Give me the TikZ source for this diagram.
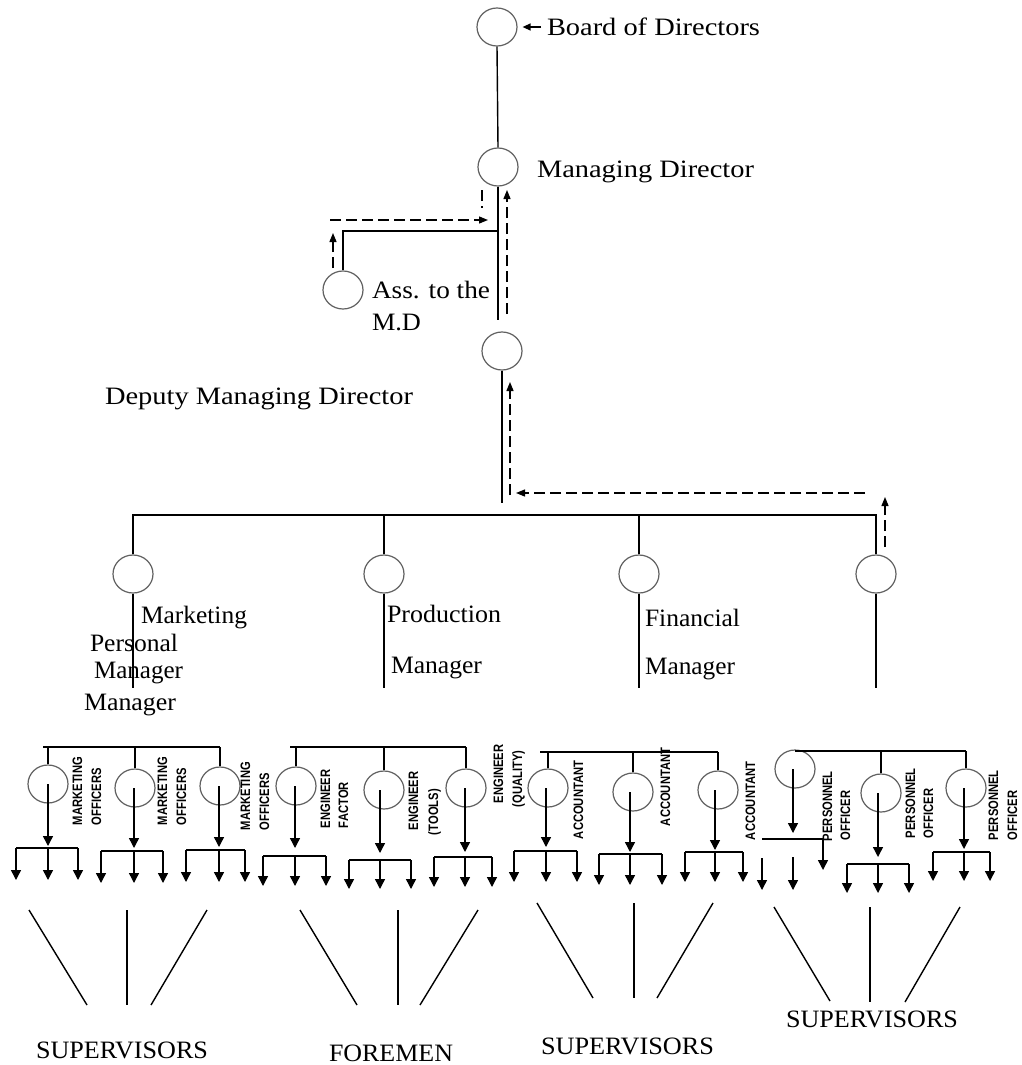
\documentclass[tikz,border=0pt]{standalone}
\usepackage{fontspec}
\setmainfont{Liberation Serif}
\newfontfamily\capsans{Liberation Sans}
\usetikzlibrary{shapes.geometric,arrows.meta}
% serif label stretched to a given width (in pt), natural height kept
\newcommand{\fitw}[2]{\resizebox{#1pt}{\height}{#2}}
% small capitals label, glyphs made a little taller
\newcommand{\tallcaps}[1]{\scalebox{1}[1.22]{#1}}
\begin{document}
\begin{tikzpicture}[x=1pt,y=-1pt,
  post/.style={ellipse, draw=black!62, line width=1.2pt, minimum width=40pt, minimum height=38pt, inner sep=0pt},
  link/.style={line width=1.4pt},
  tip/.style={line width=1.4pt, -{Triangle[width=10pt,length=10pt]}},
  dashtip/.style={line width=1.3pt, dash pattern=on 11pt off 5pt, -{Triangle[width=7pt,length=9pt]}},
  dashlink/.style={line width=1.3pt, dash pattern=on 11pt off 5pt},
  lab/.style={anchor=base west, inner sep=0pt, outer sep=0pt, font=\fontsize{25}{29}\selectfont},
  vlab/.style={rotate=90, anchor=base west, inner sep=0pt, outer sep=0pt, font=\capsans\bfseries\fontsize{11.2}{12}\selectfont},
]
\fill[white] (0,0) rectangle (1022,1065);
\useasboundingbox (0,0) rectangle (1022,1065);

% ---------- top of the hierarchy ----------
\node[post] (bod) at (497,27) {};
\node[post] (md) at (498,167) {};
\node[post] (ass) at (343,290) {};
\node[post] (dmd) at (502,351) {};

\node[lab] (bodl) at (547,35) {\fitw{213}{Board of Directors}};
\node[lab] (mdl) at (537,177) {\fitw{217}{Managing Director}};
\node[lab] (assl) at (372,298) {\fitw{118}{Ass. to the}};
\node[lab] (assm) at (372,330) {\fitw{49}{M.D}};
\node[lab] (dmdl) at (105,404) {\fitw{308}{Deputy Managing Director}};

\draw[line width=1.3pt, -{Triangle[width=7pt,length=8pt]}] (541,27) -- ([xshift=5pt]bod.east);
\draw[link] (bod.south) -- (md.north);
\coordinate (mdend) at (498,320);
\coordinate (assj) at (498,231);
\draw[link] (md.south) -- (mdend);
\draw[link] (assj) -| (ass.north);
\draw[link] (dmd.south) -- (502,503);

% staff / reporting lines (dashed)
\draw[dashtip] (333,268) -- (333,233);
\draw[dashtip] (330,220) -- (488,220);
\draw[dashlink] (482,190) -- (482,208);
\draw[dashtip] (507,314) -- (507,190);
\draw[dashtip] (510,495) -- (510,382);
\draw[dashtip] (865,493) -- (516,493);
\draw[dashtip] (885,547) -- (885,497);

% ---------- managers ----------
\node[post] (m1) at (133,574) {};
\node[post] (m2) at (384,574) {};
\node[post] (m3) at (639,574) {};
\node[post] (m4) at (876,574) {};
\coordinate (mbar) at (0,515);
\coordinate (mtail) at (0,688);
\draw[link] (m1.north) -- (m1.north |- mbar) -- (m4.north |- mbar) -- (m4.north);
\foreach \m in {m2,m3} \draw[link] (\m.north) -- (\m.north |- mbar);
\foreach \m in {m1,m2,m3,m4} \draw[link] (\m.south) -- (\m.south |- mtail);

\node[lab] (mkt) at (141,623) {\fitw{106}{Marketing}};
\node[lab] (pers) at (90,651) {\fitw{88}{Personal}};
\node[lab] (mgra) at (94,678) {\fitw{89}{Manager}};
\node[lab] (mgrb) at (84,710) {\fitw{92}{Manager}};
\node[lab] (prod) at (387,622) {\fitw{114}{Production}};
\node[lab] (mgrc) at (391,673) {\fitw{91}{Manager}};
\node[lab] (fin) at (645,626) {\fitw{95}{Financial}};
\node[lab] (mgrd) at (645,674) {\fitw{90}{Manager}};

% ---------- officers and their sections ----------
% name / circle x / circle y / arrow x / arrow tip y / bar y / bar left / bar right / tips y
\foreach \n/\cx/\cy/\ax/\at/\by/\bl/\br/\ty in {
  a1/48/784/48/846/848/16/78/880,
  a2/135/788/134/848/851/101/163/883,
  a3/220/786/219/847/850/186/245/882,
  b1/296/786/295/848/856/263/326/886,
  b2/384/790/380/853/860/349/411/889,
  b3/466/788/465/852/857/434/492/887,
  c1/548/788/546/847/851/514/577/882,
  c2/633/792/630/852/854/599/662/885,
  c3/718/790/715/850/852/685/743/882,
  d2/881/793/878/857/864/847/909/893,
  d3/966/788/964/849/852/933/990/881}{
  \node[post] (\n) at (\cx,\cy) {};
  \coordinate (\n-src) at (\ax,\cy);
  \draw[tip] (\n-src) -- (\ax,\at);
  \draw[link] (\bl,\by) -- (\br,\by);
  \draw[tip] (\bl,\by) -- (\bl,\ty);
  \draw[tip] (\ax,\by) -- (\ax,\ty);
  \draw[tip] (\br,\by) -- (\br,\ty);
}
\node[post] (d1) at (795,769) {};
\coordinate (d1-src) at (793,769);
\draw[tip] (d1-src) -- (793,833);
\draw[link] (762,839) -- (823,839);
\draw[tip] (823,839) -- (823,870);
\draw[tip] (762,858) -- (762,890);
\draw[tip] (793,857) -- (793,890);

% group bars
\coordinate (abar) at (0,747);
\coordinate (bbar) at (0,747);
\coordinate (cbar) at (0,752);
\coordinate (dbar) at (0,751);
\draw[link] (43,747) -- (a3.north |- abar);
\foreach \n in {a1,a2,a3} \draw[link] (\n.north) -- (\n.north |- abar);
\draw[link] (290,747) -- (b3.north |- bbar);
\foreach \n in {b1,b2,b3} \draw[link] (\n.north) -- (\n.north |- bbar);
\draw[link] (540,752) -- (c3.north |- cbar);
\foreach \n in {c1,c2,c3} \draw[link] (\n.north) -- (\n.north |- cbar);
\draw[link] (d1.north |- dbar) -- (d3.north |- dbar);
\foreach \n in {d2,d3} \draw[link] (\n.north) -- (\n.north |- dbar);

% rotated officer labels
\node[vlab] (ta1) at (82,825) {\tallcaps{MARKETING}};
\node[vlab] (ta1b) at (101,825) {\tallcaps{OFFICERS}};
\node[vlab] (ta2) at (167,825) {\tallcaps{MARKETING}};
\node[vlab] (ta2b) at (186,825) {\tallcaps{OFFICERS}};
\node[vlab] (ta3) at (250,830) {\tallcaps{MARKETING}};
\node[vlab] (ta3b) at (269,830) {\tallcaps{OFFICERS}};
\node[vlab] (tb1) at (330,828) {\tallcaps{ENGINEER}};
\node[vlab] (tb1b) at (348,828) {\tallcaps{FACTOR}};
\node[vlab] (tb2) at (418,830) {\tallcaps{ENGINEER}};
\node[vlab] (tb2b) at (438,835) {\tallcaps{(TOOLS)}};
\node[vlab] (tb3) at (503,803) {\tallcaps{ENGINEER}};
\node[vlab] (tb3b) at (522,807) {\tallcaps{(QUALITY)}};
\node[vlab] (tc1) at (583,839) {\tallcaps{ACCOUNTANT}};
\node[vlab] (tc2) at (670,826) {\tallcaps{ACCOUNTANT}};
\node[vlab] (tc3) at (755,840) {\tallcaps{ACCOUNTANT}};
\node[vlab] (td1) at (832,841) {\tallcaps{PERSONNEL}};
\node[vlab] (td1b) at (850,840) {\tallcaps{OFFICER}};
\node[vlab] (td2) at (915,838) {\tallcaps{PERSONNEL}};
\node[vlab] (td2b) at (933,838) {\tallcaps{OFFICER}};
\node[vlab] (td3) at (998,840) {\tallcaps{PERSONNEL}};
\node[vlab] (td3b) at (1017,840) {\tallcaps{OFFICER}};

% ---------- bottom level ----------
\draw[link] (29,910) -- (87,1005);
\draw[link] (127,910) -- (127,1005);
\draw[link] (207,910) -- (151,1005);
\draw[link] (300,910) -- (357,1005);
\draw[link] (398,910) -- (398,1005);
\draw[link] (478,910) -- (420,1005);
\draw[link] (537,903) -- (593,998);
\draw[link] (634,903) -- (634,998);
\draw[link] (713,903) -- (657,998);
\draw[link] (774,907) -- (830,1001);
\draw[link] (870,907) -- (870,1002);
\draw[link] (960,907) -- (905,1002);

\node[lab] (sup1) at (36,1058) {\fitw{172}{SUPERVISORS}};
\node[lab] (fore) at (329,1061) {\fitw{124}{FOREMEN}};
\node[lab] (sup3) at (541,1054) {\fitw{173}{SUPERVISORS}};
\node[lab] (sup4) at (786,1027) {\fitw{172}{SUPERVISORS}};
\end{tikzpicture}
\end{document}
